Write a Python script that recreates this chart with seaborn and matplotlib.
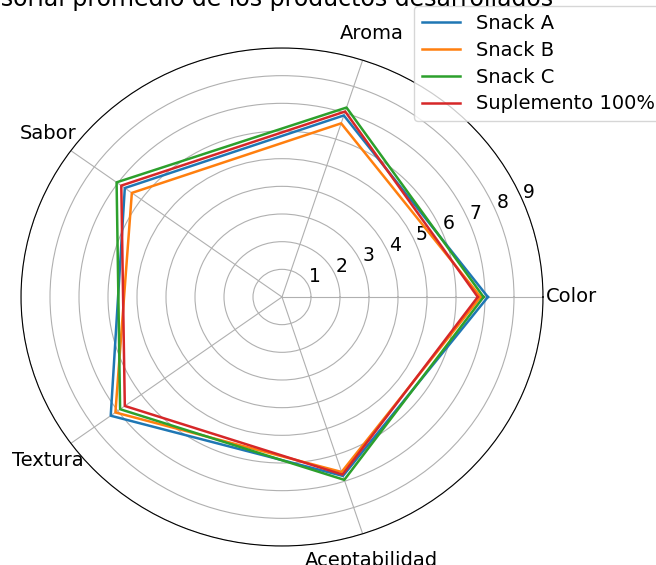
import numpy as np
import pandas as pd
import matplotlib
matplotlib.use("Agg")
import matplotlib.pyplot as plt
import seaborn as sns

atributos = ["Color", "Aroma", "Sabor", "Textura", "Aceptabilidad"]
productos = ["Snack A", "Snack B", "Snack C", "Suplemento 100%"]
snack_a = [7.1, 6.9, 6.7, 7.3, 6.8]
snack_b = [6.85, 6.6, 6.4, 7.1, 6.65]
snack_c = [6.95, 7.2, 7.05, 6.9, 6.95]
suplemento = [6.75, 7.05, 6.85, 6.7, 6.75]
titulo = "Evaluación sensorial promedio de los productos desarrollados"

valores = [snack_a, snack_b, snack_c, suplemento]
angulos = np.linspace(0, 2 * np.pi, len(atributos), endpoint=False)

filas = []
for prod, vals in zip(productos, valores):
    # cerrar el poligono repitiendo el primer punto
    for ang, v in zip(list(angulos) + [angulos[0] + 2 * np.pi], vals + vals[:1]):
        filas.append({"producto": prod, "theta": ang, "valor": v})
df = pd.DataFrame(filas)

fs = 14
fig = plt.figure(figsize=(6.56, 5.65), dpi=100)
ax = fig.add_axes([21 / 656, 19 / 565, 522 / 656, 498 / 565], polar=True)

sns.lineplot(data=df, x="theta", y="valor", hue="producto", sort=False,
             estimator=None, palette="tab10", linewidth=1.8, ax=ax)

ax.set_aspect("auto")
ax.set_xticks(angulos)
ax.set_xticklabels(atributos, fontsize=fs)
ax.tick_params(axis="x", pad=10)
ax.set_ylim(0, 9)
ax.set_yticks(range(1, 10))
ax.set_yticklabels([str(i) for i in range(1, 10)], fontsize=13.5)
ax.set_xlabel("")
ax.set_ylabel("")
ax.grid(True)

handles, labels = ax.get_legend_handles_labels()
ax.legend(handles, labels, loc="upper left", fontsize=fs, labelspacing=0.4,
          handlelength=2.0, bbox_to_anchor=(404 / 656, 1.006),
          bbox_transform=fig.transFigure)

fig.text(553 / 656, 1 - 6 / 565, titulo, ha="right", va="baseline", fontsize=17)

fig.savefig("out.png", dpi=100)
